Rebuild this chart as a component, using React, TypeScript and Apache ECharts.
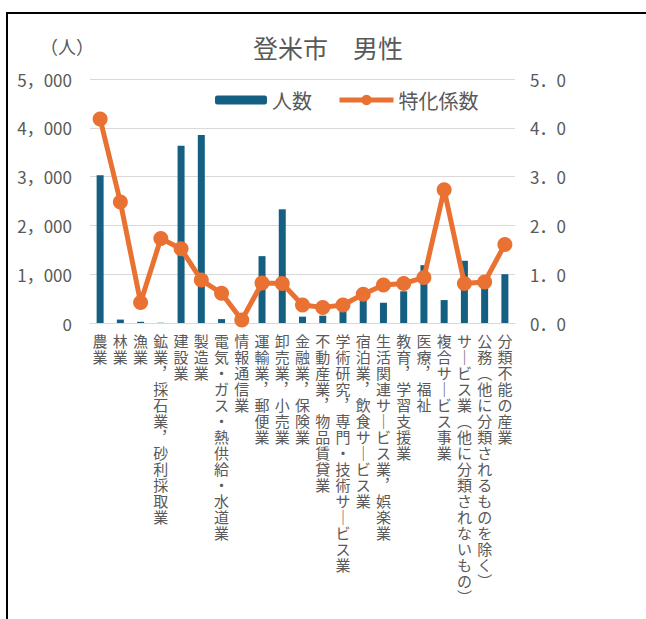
import React, { useEffect, useRef } from "react";
import * as echarts from "echarts";

const categories = [
  "農業",
  "林業",
  "漁業",
  "鉱業，採石業，砂利採取業",
  "建設業",
  "製造業",
  "電気・ガス・熱供給・水道業",
  "情報通信業",
  "運輸業，郵便業",
  "卸売業，小売業",
  "金融業，保険業",
  "不動産業，物品賃貸業",
  "学術研究，専門・技術サービス業",
  "宿泊業，飲食サービス業",
  "生活関連サービス業，娯楽業",
  "教育，学習支援業",
  "医療，福祉",
  "複合サービス事業",
  "サービス業（他に分類されないもの）",
  "公務（他に分類されるものを除く）",
  "分類不能の産業",
];

const workers = [3030, 70, 25, 5, 3630, 3850, 80, 30, 1370, 2330, 130, 150, 250, 520, 415, 650, 1185, 470, 1275, 850, 1000];

const coefficient = [4.18, 2.48, 0.42, 1.73, 1.52, 0.88, 0.61, 0.06, 0.82, 0.81, 0.37, 0.32, 0.37, 0.59, 0.78, 0.81, 0.93, 2.73, 0.81, 0.84, 1.61];

const leftTicks = { min: 0, max: 5000, interval: 1000 };
const rightTicks = { min: 0, max: 5, interval: 1 };

const FONT = "'Noto Sans CJK JP', 'Noto Sans', sans-serif";
const TEXT = "#595959";
const BLUE = "#156082";
const ORANGE = "#E97132";

const verticalMap: Record<string, string> = {
  "，": "︐",
  "（": "︵",
  "）": "︶",
  "ー": "｜",
};

function toVertical(s: string): string {
  return Array.from(s)
    .map((c) => verticalMap[c] ?? c)
    .join("\n");
}

export default function App() {
  const ref = useRef<HTMLDivElement>(null);

  useEffect(() => {
    if (!ref.current) return;
    const chart = echarts.init(ref.current, null, { renderer: "svg" });
    chart.setOption({
      animation: false,
      backgroundColor: "#ffffff",
      title: {
        text: "登米市　男性",
        left: 253,
        top: 34,
        padding: 0,
        textStyle: { fontFamily: FONT, fontSize: 25, fontWeight: "normal", color: TEXT },
      },
      legend: [
        {
          data: ["人数"],
          left: 210,
          top: 85,
          itemWidth: 52,
          itemHeight: 9,
          textStyle: { fontFamily: FONT, fontSize: 20, color: TEXT },
        },
        {
          data: ["特化係数"],
          left: 332,
          top: 85,
          itemWidth: 54,
          itemHeight: 13,
          lineStyle: { width: 5 },
          textStyle: { fontFamily: FONT, fontSize: 20, color: TEXT },
        },
      ],
      grid: { left: 90, right: 131, top: 79, bottom: 296, containLabel: false },
      xAxis: {
        type: "category",
        data: categories,
        axisLine: { lineStyle: { color: "#d9d9d9", width: 1 } },
        axisTick: { show: false },
        axisLabel: {
          interval: 0,
          margin: 9,
          fontFamily: FONT,
          fontSize: 15,
          lineHeight: 16,
          color: TEXT,
          verticalAlign: "top",
          formatter: (v: string) => toVertical(v),
        },
      },
      yAxis: [
        {
          type: "value",
          ...leftTicks,
          axisLine: { show: false },
          axisTick: { show: false },
          splitLine: { lineStyle: { color: "#d9d9d9", width: 1 } },
          axisLabel: {
            margin: 18,
            fontFamily: FONT,
            fontSize: 17,
            color: TEXT,
            formatter: (v: number) => {
              const s = String(v);
              return s.length > 3 ? s.slice(0, s.length - 3) + "，" + s.slice(-3) : s;
            },
          },
        },
        {
          type: "value",
          ...rightTicks,
          axisLine: { show: false },
          axisTick: { show: false },
          splitLine: { show: false },
          axisLabel: {
            margin: 15,
            fontFamily: FONT,
            fontSize: 17,
            color: TEXT,
            formatter: (v: number) => v.toFixed(1).replace(".", "．"),
          },
        },
      ],
      graphic: [
        {
          type: "rect",
          shape: { x: 7, y: 13, width: 800, height: 800 },
          style: { fill: "none", stroke: "#000000", lineWidth: 2 },
          silent: true,
        },
        {
          type: "text",
          left: 40,
          top: 37,
          style: { text: "（人）", fontFamily: FONT, fontSize: 18, fill: TEXT },
        },
      ],
      series: [
        {
          name: "人数",
          type: "bar",
          data: workers,
          barWidth: 7,
          itemStyle: { color: BLUE },
          yAxisIndex: 0,
        },
        {
          name: "特化係数",
          type: "line",
          data: coefficient,
          yAxisIndex: 1,
          symbol: "circle",
          symbolSize: 15,
          lineStyle: { color: ORANGE, width: 5 },
          itemStyle: { color: ORANGE },
          z: 3,
        },
      ],
    });
    return () => chart.dispose();
  }, []);

  return (
    <div
      ref={ref}
      style={{ position: "absolute", left: 0, top: 0, width: 646, height: 619 }}
    />
  );
}
